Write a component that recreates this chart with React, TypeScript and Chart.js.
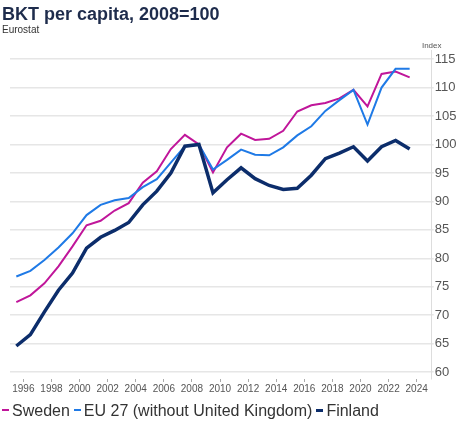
import React, { useEffect, useRef } from "react";
import { Chart, registerables } from "chart.js";

Chart.register(...registerables);

const years = [
  1995, 1996, 1997, 1998, 1999, 2000, 2001, 2002, 2003, 2004,
  2005, 2006, 2007, 2008, 2009, 2010, 2011, 2012, 2013, 2014,
  2015, 2016, 2017, 2018, 2019, 2020, 2021, 2022, 2023,
];

const sweden = [
  72.3, 73.5, 75.6, 78.6, 82.1, 85.8, 86.6, 88.4, 89.7, 93.3,
  95.3, 99.2, 101.7, 100.0, 95.1, 99.5, 101.9, 100.8, 101.0, 102.4,
  105.8, 106.9, 107.3, 108.1, 109.6, 106.7, 112.4, 112.8, 111.8,
];

const eu27 = [
  76.8, 77.8, 79.7, 81.9, 84.4, 87.6, 89.4, 90.2, 90.6, 92.5,
  93.9, 96.8, 99.7, 100.0, 95.6, 97.3, 99.1, 98.2, 98.1, 99.5,
  101.6, 103.2, 105.9, 107.8, 109.6, 103.5, 110.0, 113.3, 113.3,
];

const finland = [
  64.6, 66.6, 70.6, 74.4, 77.4, 81.8, 83.7, 84.9, 86.3, 89.4,
  91.8, 95.0, 99.7, 100.0, 91.5, 93.8, 95.9, 94.0, 92.8, 92.1,
  92.3, 94.6, 97.5, 98.5, 99.6, 97.1, 99.6, 100.7, 99.2,
];

const xTickYears = [1996, 1998, 2000, 2002, 2004, 2006, 2008, 2010, 2012, 2014, 2016, 2018, 2020, 2022, 2024];
const yTickValues = [60, 65, 70, 75, 80, 85, 90, 95, 100, 105, 110, 115];

const seriesNames = ["Sweden", "EU 27 (without United Kingdom)", "Finland"];
const seriesColors = ["#c0169a", "#1f7ae6", "#0c2d6b"];
const seriesWidths = [2, 2, 3.5];

const FONT = "'Liberation Sans', Arial, sans-serif";

const indexLabelPlugin = {
  id: "indexLabel",
  afterDraw(chart: any) {
    const { ctx, chartArea } = chart;
    ctx.save();
    ctx.font = `8px ${FONT}`;
    ctx.fillStyle = "#555";
    ctx.textAlign = "center";
    ctx.textBaseline = "middle";
    ctx.fillText("Index", chartArea.right, chartArea.top - 4);
    ctx.restore();
  },
};

export default function App() {
  const canvasRef = useRef<HTMLCanvasElement | null>(null);

  useEffect(() => {
    if (!canvasRef.current) return;
    const seriesData = [sweden, eu27, finland];
    const chart = new Chart(canvasRef.current, {
      type: "line",
      data: {
        datasets: seriesData.map((vals, i) => ({
          label: seriesNames[i],
          data: vals.map((v, j) => ({ x: years[j] + 0.5, y: v })),
          borderColor: seriesColors[i],
          backgroundColor: seriesColors[i],
          borderWidth: seriesWidths[i],
          pointRadius: 0,
          tension: 0,
          order: 2 - i,
        })),
      },
      options: {
        animation: false,
        responsive: false,
        maintainAspectRatio: false,
        layout: { padding: { left: 10, top: 50, right: 0, bottom: 26 } },
        plugins: {
          legend: { display: false },
          title: { display: false },
          tooltip: { enabled: false },
        },
        scales: {
          x: {
            type: "linear",
            min: 1995.05,
            max: 2025.07,
            afterBuildTicks: (scale: any) => {
              scale.ticks = xTickYears.map((v) => ({ value: v }));
            },
            afterFit: (scale: any) => {
              scale.height = 16;
            },
            grid: {
              drawOnChartArea: false,
              drawTicks: true,
              tickLength: 3,
              color: "#aaa",
            },
            border: { display: false },
            ticks: {
              padding: 1,
              autoSkip: false,
              maxRotation: 0,
              color: "#555",
              font: { family: FONT, size: 10 },
              callback: (v: any) => String(v),
            },
          },
          y: {
            type: "linear",
            position: "right",
            min: 58.8,
            max: 116.6,
            afterBuildTicks: (scale: any) => {
              scale.ticks = yTickValues.map((v) => ({ value: v }));
            },
            afterFit: (scale: any) => {
              scale.width = 27.3;
            },
            grid: {
              color: "#e6e6e6",
              lineWidth: 1.5,
              drawTicks: true,
              tickLength: 2,
            },
            border: { display: true, color: "#dddddd", width: 1 },
            ticks: {
              padding: 1,
              color: "#555",
              font: { family: FONT, size: 13 },
              callback: (v: any) => String(v),
            },
          },
        },
      },
      plugins: [indexLabelPlugin],
    } as any);
    return () => chart.destroy();
  }, []);

  return (
    <div
      style={{
        position: "fixed",
        left: 0,
        top: 0,
        width: 459,
        height: 421,
        background: "#fff",
        fontFamily: FONT,
        overflow: "hidden",
      }}
    >
      <canvas
        ref={canvasRef}
        width={459}
        height={421}
        style={{ position: "absolute", left: 0, top: 0, width: 459, height: 421 }}
      />
      <div
        style={{
          position: "absolute",
          left: 2,
          top: 5,
          fontSize: 18,
          lineHeight: "18px",
          fontWeight: "bold",
          color: "#1e2c4c",
          whiteSpace: "nowrap",
        }}
      >
        BKT per capita, 2008=100
      </div>
      <div
        style={{
          position: "absolute",
          left: 2,
          top: 25,
          fontSize: 10,
          lineHeight: "10px",
          color: "#333",
          whiteSpace: "nowrap",
        }}
      >
        Eurostat
      </div>
      <div
        style={{
          position: "absolute",
          left: 2,
          top: 403,
          fontSize: 16,
          lineHeight: "16px",
          color: "#333",
          whiteSpace: "nowrap",
        }}
      >
        {seriesNames.map((name, i) => (
          <span key={name} style={{ marginRight: 4 }}>
            <span
              style={{
                display: "inline-block",
                width: 7,
                height: i === 2 ? 3 : 2,
                background: seriesColors[i],
                verticalAlign: i === 2 ? "4.5px" : "5px",
                marginRight: 3,
              }}
            />
            {name}
          </span>
        ))}
      </div>
    </div>
  );
}
